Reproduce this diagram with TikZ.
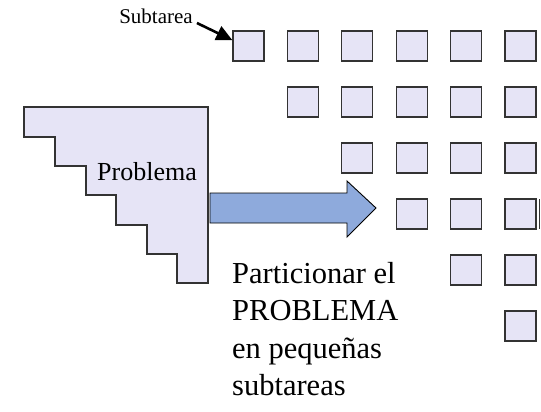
\documentclass[tikz,border=0pt]{standalone}
\usepackage{fontspec}
\setmainfont{Liberation Serif}
\usepackage{xcolor}
\usetikzlibrary{arrows.meta,positioning}
\definecolor{lavender}{HTML}{E6E4F6}
\definecolor{edge}{HTML}{333333}
\definecolor{blockblue}{HTML}{8EAADC}

\begin{document}
\begin{tikzpicture}[
    x=1pt, y=-1pt,
    every node/.style={align=left},
    sub/.style={draw=edge, line width=1.3pt, fill=lavender,
                minimum width=31pt, minimum height=30pt, inner sep=0pt},
    stair/.style={draw=edge, line width=1.3pt, fill=lavender},
    big/.style={draw=black, line width=0.9pt, fill=blockblue},
    arr/.style={-{Triangle[length=16pt,width=15pt]}, line width=2.6pt},
  ]
  \useasboundingbox (0,0) rectangle (541,412);

  % staircase of the problem
  \draw[stair] (24,107) -- (208,107) -- (208,283) -- (177,283)
    -- (177,254) -- (147,254) -- (147,225) -- (116,225) -- (116,195)
    -- (86,195) -- (86,166) -- (55,166) -- (55,137) -- (24,137) -- cycle;
  \node[font=\fontsize{26}{30}\selectfont, inner sep=0pt, anchor=base]
    (prob) at (147,180) {Problema};

  % subtasks
  \foreach \r in {1,...,6}{
    \foreach \c in {\r,...,6}{
      \node[sub] (s-\r-\c) at ({248.5+54.4*(\c-1)},{46+56*(\r-1)}) {};
    }
  }
  \draw[draw=edge, line width=1.3pt] (539.5,199) -- (539.5,229);

  \node[font=\fontsize{21}{24}\selectfont, inner sep=0pt, anchor=base]
    (lbl) at (156,24) {Subtarea};
  \draw[arr] (lbl.base east) ++(4,-1) -- (s-1-1.160);

  % partition arrow
  \draw[big] (210,193) -- (347,193) -- (347,181) -- (376,208)
    -- (347,237) -- (347,223) -- (210,223) -- cycle;

  \node[font=\fontsize{30.5}{37.5}\selectfont, inner sep=0pt, anchor=north west]
    (txt) at (232,262) {Particionar el\\PROBLEMA\\en pequeñas\\subtareas};
\end{tikzpicture}
\end{document}
